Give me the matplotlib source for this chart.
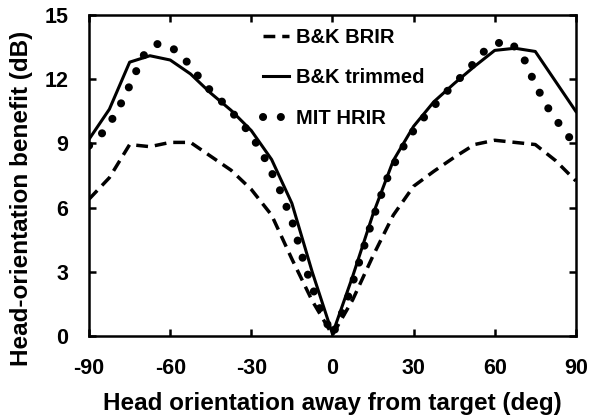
import matplotlib
matplotlib.use('Agg')
import matplotlib.pyplot as plt

# Head orientation (deg)
bk_angles = [-90, -82.5, -75, -67.5, -60, -52.5, -45, -37.5, -30, -22.5, -15, -7.5, 0,
             7.5, 15, 22.5, 30, 37.5, 45, 52.5, 60, 67.5, 75, 82.5, 90]
bk_brir = [6.4, 7.4, 8.95, 8.85, 9.05, 9.05, 8.4, 7.75, 6.85, 5.65, 3.6, 1.65, 0.05,
           1.7, 3.75, 5.65, 7.0, 7.7, 8.35, 8.95, 9.15, 9.05, 8.95, 8.2, 7.25]
bk_trimmed = [9.2, 10.6, 12.8, 13.1, 12.9, 12.25, 11.35, 10.55, 9.6, 8.25, 6.2, 3.0, 0.1,
              2.8, 5.7, 8.2, 9.8, 10.95, 11.8, 12.6, 13.35, 13.45, 13.3, 11.9, 10.5]

mit_angles = [-90, -85, -80, -75, -70, -65, -60, -55, -50, -45, -40, -35, -30, -25, -20,
              -15, -10, -5, 0, 5, 10, 15, 20, 25, 30, 35, 40, 45, 50, 55, 60, 65, 70,
              75, 80, 85, 90]
mit_hrir = [8.9, 9.5, 10.4, 11.7, 13.1, 13.65, 13.55, 13.0, 12.2, 11.45, 10.85, 10.15,
            9.4, 8.3, 7.0, 5.4, 3.2, 1.4, 0.05, 1.5, 3.5, 5.5, 7.3, 8.6, 9.6, 10.4, 11.1,
            11.8, 12.4, 13.2, 13.65, 13.8, 13.2, 11.75, 10.6, 9.7, 8.9]

x_ticks = [-90, -60, -30, 0, 30, 60, 90]
y_ticks = [0, 3, 6, 9, 12, 15]

plt.rcParams['font.family'] = ['Liberation Sans', 'DejaVu Sans']
plt.rcParams['font.weight'] = 'bold'
plt.rcParams['axes.unicode_minus'] = False

fig = plt.figure(figsize=(5.9, 4.19), dpi=100)
ax = fig.add_axes([0.151, 0.198, 0.825, 0.766])

ax.plot(bk_angles, bk_brir, color='black', lw=2.5, linestyle=(0, (3.4, 2.0)),
        label='B&K BRIR')
ax.plot(bk_angles, bk_trimmed, color='black', lw=2.2, label='B&K trimmed')
ax.plot(mit_angles, mit_hrir, color='black', lw=5.8, linestyle=(0, (0.01, 2.2)),
        dash_capstyle='round', label='MIT HRIR')

ax.set_xlim(-90, 90)
ax.set_ylim(0, 15)
ax.set_xticks(x_ticks)
ax.set_yticks(y_ticks)
ax.tick_params(direction='in', length=5, width=1.8, top=True, right=True,
               labelsize=15.5)
ax.tick_params(axis='x', pad=16)
ax.tick_params(axis='y', pad=15)
for sp in ax.spines.values():
    sp.set_linewidth(1.8)

ax.set_xlabel('Head orientation away from target (deg)', fontsize=17.5,
              fontweight='bold', labelpad=9)
ax.set_ylabel('Head-orientation benefit (dB)', fontsize=17.5, fontweight='bold')
ax.yaxis.set_label_coords(-0.115, 0.43)

leg = ax.legend(loc='upper left', bbox_to_anchor=(0.357, 0.96), frameon=False,
                fontsize=14.5, handlelength=1.3, handletextpad=0.35, labelspacing=1.07,
                borderpad=0, borderaxespad=0)
for t in leg.get_texts():
    t.set_fontweight('bold')

fig.savefig('out.png', dpi=100)
